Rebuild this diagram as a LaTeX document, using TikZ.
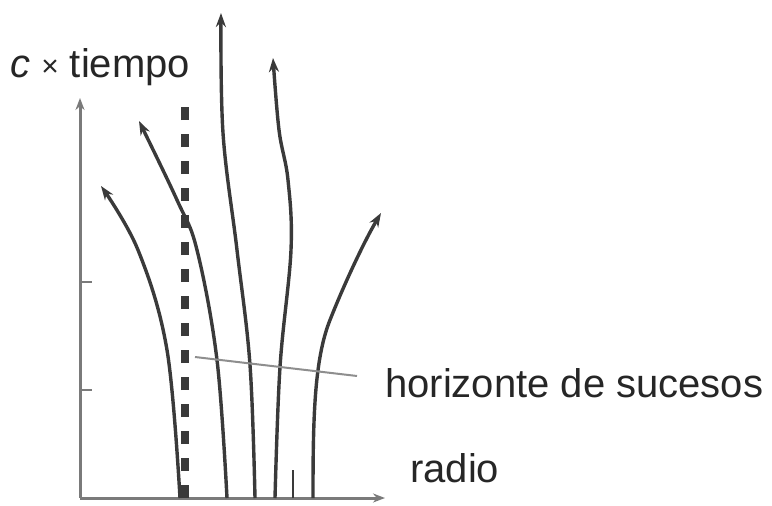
\documentclass[tikz,border=0pt]{standalone}
\usepackage{fontspec}
\setmainfont{Liberation Sans}
\usetikzlibrary{arrows.meta}
\definecolor{curvec}{HTML}{3A3A3A}
\definecolor{axisc}{HTML}{7A7A7A}
\tikzset{
  worldline/.style={draw=curvec, line width=3.4pt, -{Stealth[length=14pt,width=10pt]}},
  axisline/.style={draw=axisc, line width=3pt, -{Stealth[length=12pt,width=9pt]}},
  tickline/.style={draw=axisc, line width=2.4pt},
  horizonline/.style={draw=axisc!85, line width=2pt},
  lbl/.style={inner sep=0pt, font=\fontsize{40}{48}\selectfont, text=black!85}
}
\begin{document}
\begin{tikzpicture}[x=1pt,y=-1pt]
\useasboundingbox (0,0) rectangle (772,506);
\coordinate (O) at (80,498);
\coordinate (ytop) at (80,98);
\coordinate (xend) at (385,498);
% axes
\draw[axisline] (O) -- (ytop);
\draw[axisline] (O) -- (xend);
\draw[tickline] (80,282) -- (92,282);
\draw[tickline] (80,390) -- (92,390);
\draw[draw=curvec, line width=2.4pt] (293,470) -- (293,498);
% dashed horizon (Schwarzschild radius)
\draw[draw=curvec, line width=8pt, dash pattern=on 13pt off 14pt] (185,498) -- (185,105);
% world lines
\draw[worldline] plot[smooth, tension=0.6] coordinates {(180,498) (167,350) (138,250) (101,186)};
\draw[worldline] plot[smooth, tension=0.6] coordinates {(227,498) (217,360) (197,250) (177,200) (139,121)};
\draw[worldline] plot[smooth, tension=0.6] coordinates {(255,498) (250,365) (237,250) (223,133) (221,13)};
\draw[worldline] plot[smooth, tension=0.6] coordinates {(275,498) (280,367) (291,250) (288,180) (279,130) (273,58)};
\draw[worldline] (313,498) .. controls (313,420) and (314,360) .. (330,320) .. controls (345,282) and (365,240) .. (381,213);
% horizon line
\draw[horizonline] (195,357) -- (357,376);
% labels
\node[lbl, anchor=base west] (tl) at (10,77) {\textit{c} {\fontsize{30}{36}\selectfont\raisebox{1pt}{×}} tiempo};
\node[lbl, anchor=base west] (hl) at (385,397) {horizonte de sucesos};
\node[lbl, anchor=base west] (rl) at (410,482) {radio};
\end{tikzpicture}
\end{document}
